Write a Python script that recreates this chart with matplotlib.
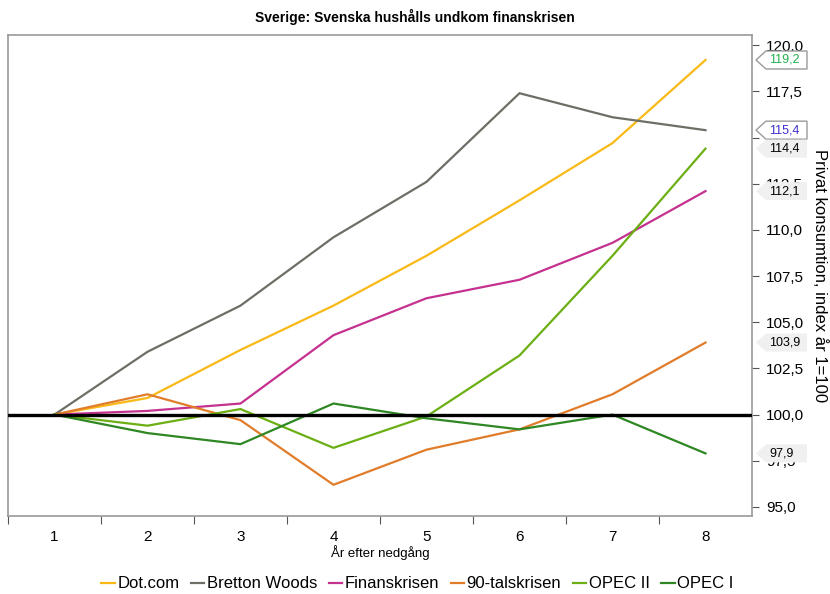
import numpy as np
import matplotlib
matplotlib.use("Agg")
import matplotlib.pyplot as plt
from matplotlib.patches import Polygon
from matplotlib import transforms
from matplotlib.ticker import FuncFormatter

plt.rcParams['font.family'] = ['Liberation Sans', 'DejaVu Sans']

years = [1, 2, 3, 4, 5, 6, 7, 8]
dotcom = [100, 100.9, 103.5, 105.9, 108.6, 111.6, 114.7, 119.2]
bretton = [100, 103.4, 105.9, 109.6, 112.6, 117.4, 116.1, 115.4]
finans = [100, 100.2, 100.6, 104.3, 106.3, 107.3, 109.3, 112.1]
nittio = [100, 101.1, 99.7, 96.2, 98.1, 99.2, 101.1, 103.9]
opec2 = [100, 99.4, 100.3, 98.2, 99.9, 103.2, 108.6, 114.4]
opec1 = [100, 99.0, 98.4, 100.6, 99.8, 99.2, 100.0, 97.9]

names = ["Dot.com", "Bretton Woods", "Finanskrisen", "90-talskrisen", "OPEC II", "OPEC I"]
series = [dotcom, bretton, finans, nittio, opec2, opec1]
colors = ["#F9B916", "#6E6E66", "#C4318F", "#E07C2A", "#6BAF14", "#2F8724"]

fig = plt.figure(figsize=(8.3, 5.94), dpi=100)
ax = fig.add_axes([0.0096, 0.131, 0.8964, 0.81])

x = np.arange(len(years))
for name, vals, c in zip(names, series, colors):
    ax.plot(x, vals, color=c, lw=1.6, label=name, zorder=3)

ax.axhline(100, color="black", lw=2.4, zorder=4)

ax.set_xlim(-0.5, 7.5)
ax.set_ylim(94.5, 120.55)

# x axis: ticks between categories, labels at centres
ax.set_xticks(np.arange(-0.5, 7.0, 1))
ax.set_xticklabels([])
ax.set_xticks(x, minor=True)
ax.set_xticklabels([str(y) for y in years], minor=True, fontsize=11)
ax.tick_params(axis="x", which="major", length=6, color="#555555", direction="out")
ax.tick_params(axis="x", which="minor", length=0, pad=10)
ax.set_xlabel("År efter nedgång", fontsize=9.5, labelpad=1)

# y axis on right
ax.yaxis.tick_right()
ax.yaxis.set_label_position("right")
ax.set_yticks(np.arange(95, 120.1, 2.5))
ax.yaxis.set_major_formatter(FuncFormatter(lambda v, p: f"{v:.1f}".replace(".", ",")))
ax.tick_params(axis="y", length=5, color="#555555", labelsize=11, pad=5)
ax.set_ylabel("Privat konsumtion, index år 1=100", fontsize=12, rotation=270, labelpad=17)

for s in ax.spines.values():
    s.set_color("#9a9a9a")
    s.set_linewidth(1.2)

# end-value labels on the right
blend = transforms.blended_transform_factory(ax.transAxes, ax.transData)
label_style = {
    "Dot.com": ("white", "#9a9a9a", "#22B14C"),
    "Bretton Woods": ("white", "#9a9a9a", "#3A2FD0"),
}
for name, vals in zip(names, series):
    v = vals[-1]
    fc, ec, tc = label_style.get(name, ("#F0F0F0", "none", "black"))
    tr = fig.dpi_scale_trans + transforms.ScaledTranslation(1.0, v, blend)
    pts = np.array([[4, 0], [14, 9], [55, 9], [55, -9], [14, -9]]) / 100.0
    poly = Polygon(pts, closed=True, transform=tr, facecolor=fc, edgecolor=ec,
                   lw=1.0, clip_on=False, zorder=6)
    ax.add_patch(poly)
    ax.text(0.17, 0.0, f"{v:.1f}".replace(".", ","), transform=tr, fontsize=9,
            color=tc, va="center", ha="left", clip_on=False, zorder=7)

fig.text(0.5, 0.972, "Sverige: Svenska hushålls undkom finanskrisen",
         ha="center", va="center", fontsize=10, fontweight="bold")

fig.legend(loc="center", bbox_to_anchor=(0.503, 0.017), ncol=6, frameon=False,
           fontsize=12, handlelength=0.8, handletextpad=0.15, columnspacing=0.7)

fig.savefig("out.png", dpi=100)
